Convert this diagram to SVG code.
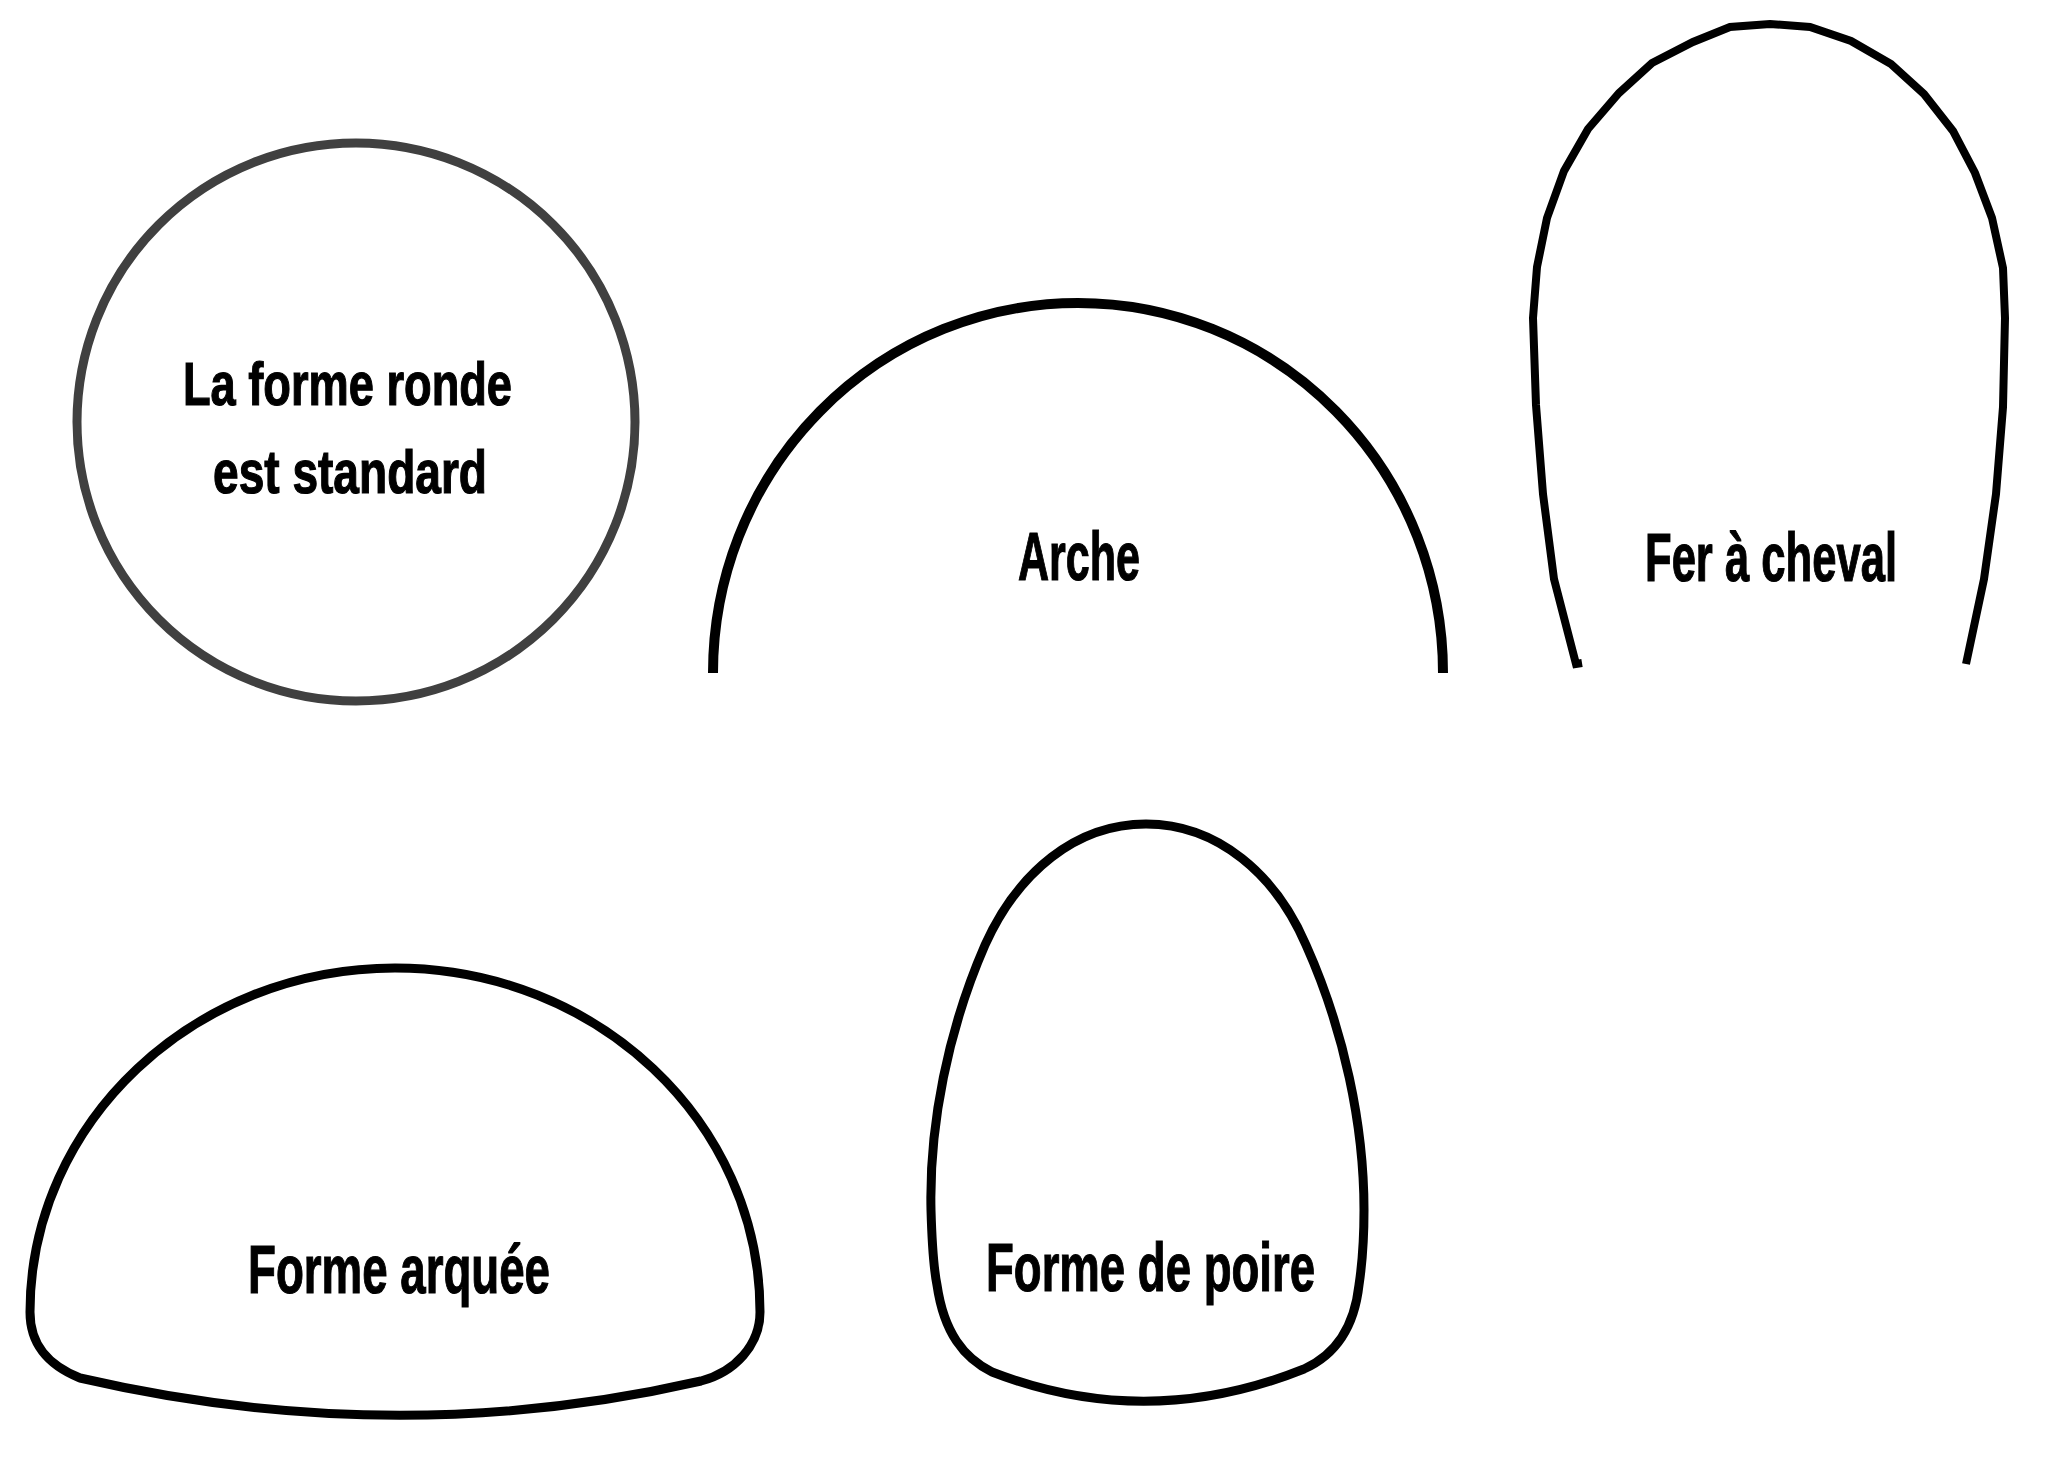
<svg xmlns="http://www.w3.org/2000/svg" width="2051" height="1464" viewBox="0 0 2051 1464">
<style>
.shape{fill:none;stroke:#000;}
.lbl{font-family:"Liberation Sans Narrow","Liberation Sans","DejaVu Sans Condensed",sans-serif;font-weight:bold;fill:#000;stroke:#000;stroke-width:1.2;}
</style>
<rect width="2051" height="1464" fill="#fff"/>
<g id="ronde">
<circle cx="356" cy="422" r="279" fill="none" stroke="#404040" stroke-width="9"/>
<text class="lbl" x="183" y="405" font-size="61" textLength="329" lengthAdjust="spacingAndGlyphs">La forme ronde</text>
<text class="lbl" x="213" y="493" font-size="61" textLength="274" lengthAdjust="spacingAndGlyphs">est standard</text>
</g>
<g id="arche">
<path class="shape" stroke-width="10" d="M 713 673 A 365 370 0 0 1 1443 673"/>
<text class="lbl" x="1018" y="580" font-size="69" textLength="122" lengthAdjust="spacingAndGlyphs">Arche</text>
</g>
<g id="fer">
<polyline class="shape" stroke-width="8" stroke-linejoin="miter" points="1582,663 1576,664 1554,579 1543,494 1536,405 1533,318 1537,267 1547,218 1564,171 1588,129 1619,93 1652,63 1693,42 1730,27 1770,24 1810,27 1851,41 1891,64 1924,94 1953,131 1975,173 1992,218 2003,268 2005,318 2003,407 1996,494 1984,579 1966,664"/>
<text class="lbl" x="1645" y="581" font-size="69" textLength="252" lengthAdjust="spacingAndGlyphs">Fer à cheval</text>
</g>
<g id="arquee">
<path class="shape" stroke-width="9" d="M 80 1378 C 48 1365 30 1345 30 1312 C 30 1122 194 968 395 968 C 597 968 760 1122 760 1312 C 760 1345 735 1372 701 1381 Q 396 1451 80 1378 Z"/>
<text class="lbl" x="248" y="1293" font-size="69" textLength="302" lengthAdjust="spacingAndGlyphs">Forme arquée</text>
</g>
<g id="poire">
<path class="shape" stroke-width="9" d="M 1146 824 C 1076 824 1018 872 985 945 C 948 1030 929 1125 931 1210 C 932 1245 934 1270 937 1285 C 944 1333 964 1358 992 1372 Q 1147 1432 1304 1369 C 1333 1356 1354 1330 1359 1285 C 1362 1265 1364 1240 1364 1210 C 1364 1125 1344 1030 1306 945 C 1276 875 1218 824 1146 824 Z"/>
<text class="lbl" x="986" y="1291" font-size="69" textLength="329" lengthAdjust="spacingAndGlyphs">Forme de poire</text>
</g>
<g id="connectors"></g>
</svg>
